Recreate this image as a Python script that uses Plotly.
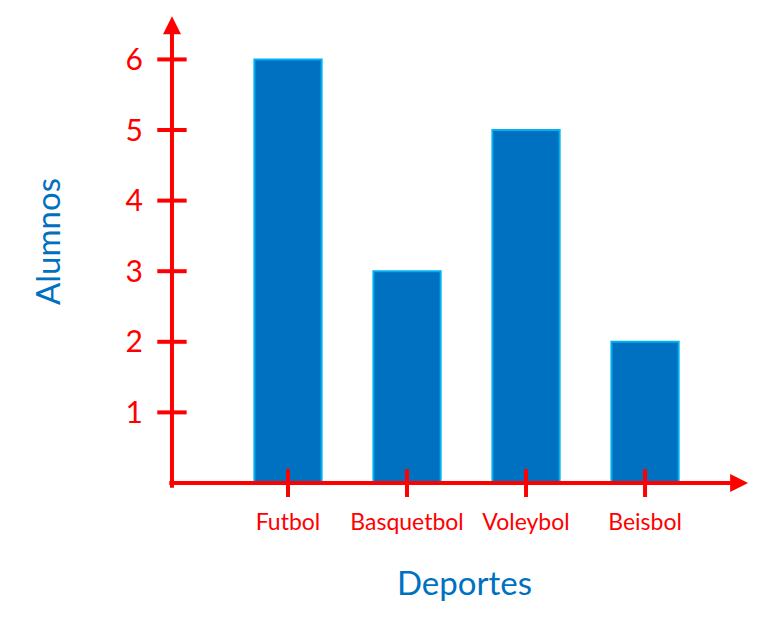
import plotly.graph_objects as go

categories = ["Futbol", "Basquetbol", "Voleybol", "Beisbol"]
alumnos = [6, 3, 5, 2]
y_ticks = [1, 2, 3, 4, 5, 6]
x_title = "Deportes"
y_title = "Alumnos"

RED = "#FF0000"
BLUE = "#0070C0"
LIGHT = "#00B0F0"
FONT = "Lato"

xpos = list(range(len(categories)))
X_AXIS_AT = -0.975
X_MIN, X_MAX = -1.0756, 3.924
Y_MIN, Y_MAX = -0.241, 6.70

fig = go.Figure()
fig.add_trace(go.Bar(
    x=xpos, y=alumnos, width=0.565,
    marker=dict(color=BLUE, line=dict(color=LIGHT, width=2)),
    hoverinfo="skip", showlegend=False,
))
# tick marks crossing the axes
fig.add_trace(go.Scatter(
    x=[X_AXIS_AT] * len(y_ticks), y=y_ticks, mode="markers",
    marker=dict(symbol="line-ew", size=21, line=dict(color=RED, width=4)),
    showlegend=False, hoverinfo="skip", cliponaxis=False,
))
fig.add_trace(go.Scatter(
    x=xpos, y=[0] * len(xpos), mode="markers",
    marker=dict(symbol="line-ns", size=20, line=dict(color=RED, width=4)),
    showlegend=False, hoverinfo="skip", cliponaxis=False,
))

# axis arrows
fig.add_annotation(x=X_AXIS_AT, y=6.61, ax=X_AXIS_AT, ay=-0.09,
                   xref="x", yref="y", axref="x", ayref="y", text="",
                   showarrow=True, arrowhead=2, arrowsize=0.9, arrowwidth=4,
                   arrowcolor=RED)
fig.add_annotation(x=3.866, y=0, ax=-1.01, ay=0,
                   xref="x", yref="y", axref="x", ayref="y", text="",
                   showarrow=True, arrowhead=2, arrowsize=0.9, arrowwidth=4,
                   arrowcolor=RED)

fig.add_annotation(xref="paper", yref="paper", x=0.5126, y=-0.1673,
                   text=x_title, showarrow=False,
                   xanchor="center", yanchor="middle",
                   font=dict(family=FONT, size=33, color=BLUE))
fig.add_annotation(xref="paper", yref="paper", x=-0.1899, y=0.5265,
                   text=y_title, showarrow=False, textangle=-90,
                   xanchor="center", yanchor="middle",
                   font=dict(family=FONT, size=33, color=BLUE))

fig.update_layout(
    width=765, height=627,
    margin=dict(l=152, r=18, t=2, b=135),
    plot_bgcolor="white", paper_bgcolor="white",
    xaxis=dict(range=[X_MIN, X_MAX], tickvals=xpos, ticktext=categories,
               showgrid=False, zeroline=False, showline=False, ticks="",
               tickfont=dict(family=FONT, size=23, color=RED),
               ticklabelstandoff=6),
    yaxis=dict(range=[Y_MIN, Y_MAX], tickvals=y_ticks,
               showgrid=False, zeroline=False, showline=False, ticks="",
               tickfont=dict(family=FONT, size=30, color=RED),
               ticklabelstandoff=16),
)

fig.write_html("out.html")
